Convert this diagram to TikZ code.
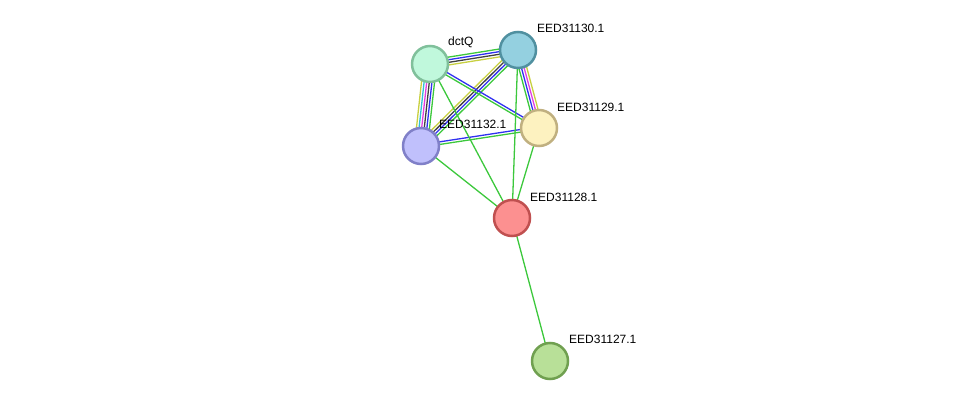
\documentclass[tikz,border=0pt]{standalone}
\usepackage{fontspec}
\setmainfont{Liberation Sans}
\usetikzlibrary{calc,backgrounds}
\definecolor{eg}{HTML}{3CC83C}
\definecolor{eb}{HTML}{3030F0}
\definecolor{ek}{HTML}{404040}
\definecolor{ey}{HTML}{C8D040}
\definecolor{em}{HTML}{E040E0}
\definecolor{ec}{HTML}{30C0D8}
\tikzset{
  prot/.style={circle,minimum size=36pt,inner sep=0pt,line width=2.5pt},
  lab/.style={anchor=west,inner sep=1pt,font=\fontsize{12}{14}\selectfont},
  edgeline/.style={line width=1.3pt},
}
\newcommand{\multiedge}[3]{%
  \foreach \c [count=\i] in {#3} {\xdef\nE{\i}}%
  \foreach \c [count=\i] in {#3} {%
    \pgfmathsetmacro\off{(\i-(\nE+1)/2)*2.6}%
    \draw[edgeline,color=\c] ($(#1.center)!\off pt!90:(#2.center)$) -- ($(#2.center)!\off pt!-90:(#1.center)$);
  }}
\begin{document}
\begin{tikzpicture}[x=1pt,y=-1pt]
\useasboundingbox (0,0) rectangle (976,406);
\node[prot,fill={rgb,255:red,192;green,248;blue,220},draw={rgb,255:red,128;green,192;blue,155}] (dctQ) at (430,64) {};
\node[prot,fill={rgb,255:red,148;green,208;blue,224},draw={rgb,255:red,80;green,144;blue,160}] (n30) at (518,50) {};
\node[prot,fill={rgb,255:red,253;green,242;blue,192},draw={rgb,255:red,192;green,176;blue,128}] (n29) at (539,128) {};
\node[prot,fill={rgb,255:red,192;green,192;blue,252},draw={rgb,255:red,128;green,128;blue,200}] (n32) at (421,146) {};
\node[prot,fill={rgb,255:red,252;green,144;blue,144},draw={rgb,255:red,192;green,80;blue,80}] (n28) at (512,218) {};
\node[prot,fill={rgb,255:red,184;green,224;blue,152},draw={rgb,255:red,112;green,160;blue,80}] (n27) at (550,361) {};
\begin{pgfonlayer}{background}
\multiedge{dctQ}{n30}{ey,ek,eb,eg}
\multiedge{dctQ}{n32}{ey,ec,em,ek,eb,eg}
\multiedge{n30}{n29}{eg,eb,em,ey}
\multiedge{n30}{n32}{ey,ek,eb,eg}
\multiedge{dctQ}{n29}{eg,eb}
\multiedge{n32}{n29}{eg,eb}
\draw[edgeline,eg] (dctQ.center) -- (n28.center);
\draw[edgeline,eg] (n30.center) -- (n28.center);
\draw[edgeline,eg] (n32.center) -- (n28.center);
\draw[edgeline,eg] (n29.center) -- (n28.center);
\draw[edgeline,eg] (n28.center) -- (n27.center);
\end{pgfonlayer}
\node[lab] (l1) at (447,42) {dctQ};
\node[lab] (l2) at (536,28) {EED31130.1};
\node[lab] (l3) at (556,107) {EED31129.1};
\node[lab] (l4) at (438,124) {EED31132.1};
\node[lab] (l5) at (529,197) {EED31128.1};
\node[lab] (l6) at (568,339) {EED31127.1};
\end{tikzpicture}
\end{document}
